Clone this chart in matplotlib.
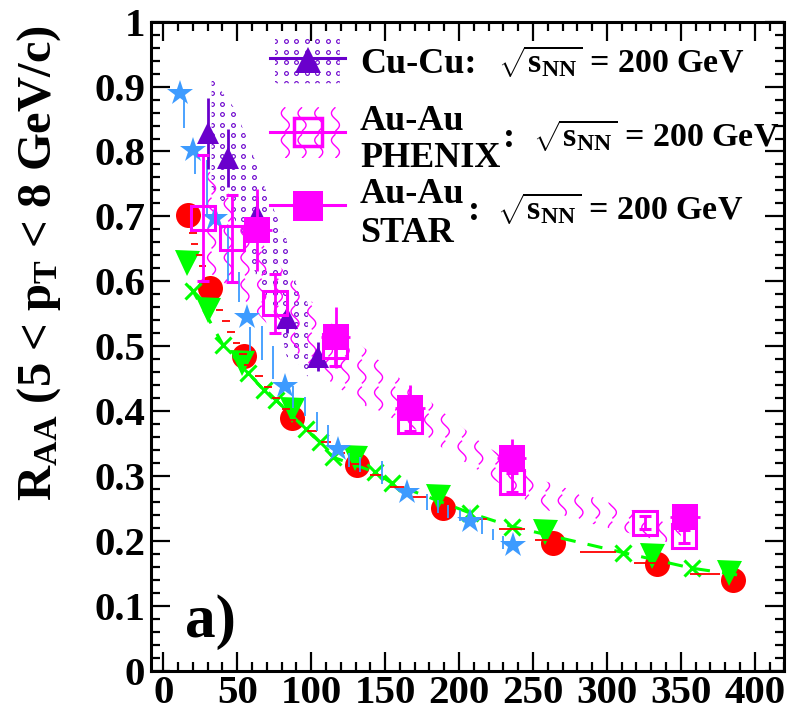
import numpy as np
import matplotlib
matplotlib.use("Agg")
import matplotlib.pyplot as plt
from matplotlib.patches import Polygon
from matplotlib.collections import LineCollection
from matplotlib.ticker import MultipleLocator, FuncFormatter

plt.rcParams.update({
    "font.family": ["Liberation Serif", "DejaVu Serif"],
    "font.weight": "bold",
    "mathtext.fontset": "custom",
    "mathtext.rm": "Liberation Serif:bold",
    "mathtext.bf": "Liberation Serif:bold",
    "mathtext.it": "Liberation Serif:bold:italic",
})

# ---------------- data ----------------
# model curves
red_circ_npart = [16.9, 31.6, 54.6, 86.8, 131.2, 188.9, 263.7, 333.6, 385.4]
red_circ_raa = [0.702, 0.589, 0.485, 0.389, 0.317, 0.250, 0.196, 0.164, 0.140]

green_tri_npart = [15.8, 30.4, 53.0, 86.8, 129.6, 185.9, 258.0, 330.2, 382.7]
green_tri_raa = [0.628, 0.556, 0.474, 0.402, 0.327, 0.268, 0.214, 0.176, 0.150]

green_x_npart = [17.6, 20.1, 40.4, 57.3, 68.1, 76.2, 96.5, 105.9, 114.7, 143.1,
                 154.6, 207.4, 235.8, 310.8, 357.4, 390.0]
green_x_raa = [0.592, 0.585, 0.502, 0.459, 0.432, 0.417, 0.372, 0.352, 0.329, 0.306,
               0.289, 0.243, 0.222, 0.182, 0.158, 0.147]

red_dash_npart = [20.1, 21.4, 24.8, 26.8, 38.3, 42.4, 45.8, 49.8, 53.9, 57.3, 64.7,
                  70.8, 76.2, 83.0, 87.0, 100.5, 110.0, 119.5, 130.9, 144.5, 158.0,
                  173.5, 211.4, 235.8, 260.2, 294.0, 329.1, 366.3]
red_dash_raa = [0.674, 0.657, 0.640, 0.623, 0.556, 0.539, 0.522, 0.505, 0.488, 0.471,
                0.454, 0.437, 0.420, 0.403, 0.386, 0.369, 0.352, 0.336, 0.318, 0.302,
                0.283, 0.267, 0.234, 0.218, 0.201, 0.183, 0.166, 0.149]
red_dash_half = [2.4, 2.4, 2.4, 2.4, 2.4, 2.4, 2.4, 2.4, 2.4, 2.4, 2.7,
                 2.7, 2.7, 3.0, 3.0, 3.4, 3.4, 3.4, 4.1, 4.4, 4.7,
                 5.1, 7.4, 8.5, 8.5, 12.5, 10.8, 10.1]

blue_bar_npart = [14.0, 21.4, 29.3, 43.9, 51.4, 58.6, 66.5, 74.4, 87.9, 95.8, 103.7,
                  111.6, 125.8, 133.0, 147.7, 178.1, 185.9, 192.7, 200.6, 215.3,
                  222.7, 229.9]
blue_bar_raa = [0.858, 0.784, 0.745, 0.640, 0.591, 0.511, 0.505, 0.475, 0.421, 0.407,
                0.384, 0.362, 0.325, 0.318, 0.305, 0.260, 0.253, 0.245, 0.239, 0.223,
                0.210, 0.198]
blue_bar_err = [0.022, 0.018, 0.042, 0.043, 0.023, 0.019, 0.026, 0.025, 0.017, 0.015,
                0.015, 0.017, 0.011, 0.012, 0.018, 0.013, 0.010, 0.010, 0.009, 0.012,
                0.009, 0.010]

blue_star_npart = [11.3, 20.3, 35.0, 56.6, 82.3, 118.3, 164.6, 207.4, 236.7]
blue_star_raa = [0.890, 0.802, 0.697, 0.545, 0.438, 0.341, 0.275, 0.230, 0.193]

# measurements
cucu_npart = [30.4, 43.9, 63.2, 83.4, 104.8]
cucu_raa = [0.828, 0.790, 0.702, 0.543, 0.484]
cucu_err = [0.055, 0.044, 0.030, 0.022, 0.023]

cucu_band_npart = [32.7, 47.3, 55.3, 63.2, 68.9, 76.6, 83.4, 90.2, 97.8]
cucu_band_hi = [0.913, 0.869, 0.828, 0.779, 0.743, 0.700, 0.664, 0.592, 0.566]
cucu_band_lo = [0.745, 0.700, 0.660, 0.607, 0.576, 0.556, 0.484, 0.476, 0.453]

phenix_npart = [27.0, 46.2, 75.5, 116.1, 166.8, 235.6, 325.7, 352.1]
phenix_raa = [0.697, 0.666, 0.566, 0.500, 0.384, 0.290, 0.228, 0.2075]
phenix_err = [0.097, 0.067, 0.045, 0.030, 0.015, 0.015, 0.010, 0.010]

phenix_band_npart = [27, 46, 60, 76, 100, 116, 138, 159, 172, 194, 216, 253, 287, 322, 350]
phenix_band_hi = [0.78, 0.73, 0.68, 0.63, 0.57, 0.53, 0.494, 0.452, 0.43, 0.39, 0.35,
                  0.296, 0.27, 0.243, 0.225]
phenix_band_lo = [0.62, 0.59, 0.56, 0.52, 0.47, 0.44, 0.406, 0.385, 0.37, 0.335, 0.305,
                  0.252, 0.228, 0.208, 0.193]

star_npart = [63.2, 116.6, 166.8, 235.6, 352.7]
star_raa = [0.679, 0.514, 0.404, 0.327, 0.237]
star_err = [0.063, 0.047, 0.036, 0.030, 0.0]

x_ticks = [0, 50, 100, 150, 200, 250, 300, 350, 400]

RED = "#ff0000"
GREEN = "#00ff00"
BLUE = "#3d9bff"
PURPLE = "#6a00cc"
MAGENTA = "#ff00ff"

# ---------------- figure ----------------
fig = plt.figure(figsize=(7.87, 7.16), dpi=100)
ax = fig.add_axes([0.1915, 0.0633, 0.8051, 0.9064])
ax.set_xlim(-8.5, 420)
ax.set_ylim(0, 1)


def band_polygon(x, lo, hi):
    x = np.asarray(x, float)
    xs = np.concatenate([x, x[::-1]])
    ys = np.concatenate([np.asarray(hi, float), np.asarray(lo, float)[::-1]])
    return np.column_stack([xs, ys])


def add_clip(verts, transform):
    p = Polygon(verts, closed=True, transform=transform,
                facecolor="none", edgecolor="none", zorder=0)
    ax.add_patch(p)
    return p


def dot_fill(verts, transform, step, color, zorder):
    clip = add_clip(verts, transform)
    disp = transform.transform(verts)
    x0, y0 = disp.min(axis=0)
    x1, y1 = disp.max(axis=0)
    gx, gy = np.meshgrid(np.arange(x0, x1 + step, step), np.arange(y0, y1 + step, step))
    pts = ax.transData.inverted().transform(np.column_stack([gx.ravel(), gy.ravel()]))
    ln, = ax.plot(pts[:, 0], pts[:, 1], ls="none", marker="o", ms=2.7,
                  mfc="none", mec=color, mew=0.8, zorder=zorder, clip_on=True)
    ln.set_clip_path(clip)


def wave_fill(verts, transform, dx, period, amp, color, zorder):
    clip = add_clip(verts, transform)
    disp = transform.transform(verts)
    x0, y0 = disp.min(axis=0)
    x1, y1 = disp.max(axis=0)
    t = np.linspace(0, 1, 40)
    inv = ax.transData.inverted()
    segs = []
    for xc in np.arange(x0 + dx / 2, x1 + dx, dx):
        for yc in np.arange(y0 - period, y1 + period, period):
            yy = yc + 0.88 * period * t
            xx = xc + amp * np.sin(2 * np.pi * t)
            segs.append(inv.transform(np.column_stack([xx, yy])))
    lc = LineCollection(segs, colors=color, linewidths=1.0, zorder=zorder)
    ax.add_collection(lc)
    lc.set_clip_path(clip)


# systematic bands
dot_fill(band_polygon(cucu_band_npart, cucu_band_lo, cucu_band_hi),
         ax.transData, 10.5, PURPLE, 1)
wave_fill(band_polygon(phenix_band_npart, phenix_band_lo, phenix_band_hi),
          ax.transData, 16.7, 27, 4, MAGENTA, 1)

# model curves
ax.plot(red_circ_npart, red_circ_raa, ls="none", marker="o", ms=18,
        color=RED, mew=0, zorder=2)
ax.plot(green_tri_npart, green_tri_raa, ls="none", marker="v", ms=18,
        color=GREEN, mew=0, zorder=3)
ax.plot(green_x_npart, green_x_raa, color=GREEN, lw=2.2, ls=(0, (5, 4)), zorder=4)
ax.plot(green_x_npart[1:-1], green_x_raa[1:-1], ls="none", marker="x", ms=11,
        mew=2.2, color=GREEN, zorder=4)
ax.errorbar(red_dash_npart, red_dash_raa, xerr=red_dash_half, fmt="none",
            ecolor=RED, elinewidth=1.3, zorder=5)
ax.errorbar(blue_bar_npart, blue_bar_raa, yerr=blue_bar_err, fmt="none",
            ecolor=BLUE, elinewidth=1.3, zorder=5)
ax.plot(blue_star_npart, blue_star_raa, ls="none", marker="*", ms=19,
        color=BLUE, mew=0, zorder=6)

# measurements
ax.errorbar(cucu_npart, cucu_raa, yerr=cucu_err, fmt="^", ms=16.5, color=PURPLE,
            mew=0, ecolor=PURPLE, elinewidth=2, capsize=4, capthick=2, zorder=7)
ax.errorbar(phenix_npart, phenix_raa, yerr=phenix_err, fmt="s", ms=17.5,
            mfc="none", mec=MAGENTA, mew=2.2, ecolor=MAGENTA, elinewidth=2,
            capsize=4, capthick=2, zorder=8)
ax.errorbar(star_npart, star_raa, yerr=star_err, xerr=10, fmt="s", ms=18.5,
            color=MAGENTA, mew=0, ecolor=MAGENTA, elinewidth=2, capsize=3,
            capthick=2, zorder=9)

# axes styling
ax.set_xticks(x_ticks)
ax.xaxis.set_minor_locator(MultipleLocator(10))
ax.yaxis.set_major_locator(MultipleLocator(0.1))
ax.yaxis.set_minor_locator(MultipleLocator(0.02))
ax.yaxis.set_major_formatter(FuncFormatter(lambda v, p: f"{v:g}"))
ax.tick_params(which="both", direction="in", top=True, right=True, width=1.6)
ax.tick_params(which="major", length=13.7, labelsize=29.5)
ax.tick_params(axis="x", which="major", pad=3)
ax.tick_params(axis="y", which="major", pad=4)
ax.tick_params(which="minor", length=6.5)
for sp in ax.spines.values():
    sp.set_linewidth(2.2)

ax.text(-0.1763, 0.994, r"R$_{\mathrm{AA}}$ (5 < p$_{\mathrm{T}}$ < 8 GeV/c)",
        transform=ax.transAxes, rotation=90, ha="center", va="top", fontsize=35)
ax.text(0.054, 0.052, "a)", transform=ax.transAxes, fontsize=44,
        ha="left", va="baseline")

# legend
SQ = r"$\sqrt{\mathrm{s}_{\mathrm{NN}}}$ = 200 GeV"
dot_fill(np.array([[0.1962, 0.9051], [0.2985, 0.9051], [0.2985, 0.9795], [0.1962, 0.9795]]),
         ax.transAxes, 10.5, PURPLE, 10)
wave_fill(np.array([[0.1993, 0.7899], [0.3035, 0.7899], [0.3035, 0.8685], [0.1993, 0.8685]]),
          ax.transAxes, 16.7, 27, 4, MAGENTA, 10)
lx = [0.1883, 0.3067]
ax.plot(lx, [0.9436, 0.9436], color=PURPLE, lw=2.2, transform=ax.transAxes, zorder=11)
ax.plot([0.2487], [0.941], marker="^", ms=19, color=PURPLE, mew=0,
        transform=ax.transAxes, zorder=12)
ax.plot(lx, [0.8305, 0.8305], color=MAGENTA, lw=2.2, transform=ax.transAxes, zorder=11)
ax.plot([0.2475], [0.8305], marker="s", ms=20, mfc="none", mec=MAGENTA, mew=2.5,
        transform=ax.transAxes, zorder=12)
ax.plot(lx, [0.7176, 0.7176], color=MAGENTA, lw=2.2, transform=ax.transAxes, zorder=11)
ax.plot([0.2483], [0.716], marker="s", ms=21, color=MAGENTA, mew=0,
        transform=ax.transAxes, zorder=12)

tk = dict(transform=ax.transAxes, fontsize=26, ha="left", va="baseline", zorder=12)
sk = dict(tk, fontsize=24.5)
ax.text(0.3302, 0.9205, "Cu-Cu:", **tk)
ax.text(0.548, 0.9205, SQ, **sk)
ax.text(0.3302, 0.8331, "Au-Au", **tk)
ax.text(0.3302, 0.7766, "PHENIX", **tk)
ax.text(0.556, 0.8067, ":", **tk)
ax.text(0.6034, 0.8067, SQ, **sk)
ax.text(0.3302, 0.7202, "Au-Au", **tk)
ax.text(0.3302, 0.661, "STAR", **tk)
ax.text(0.5008, 0.6945, ":", **tk)
ax.text(0.5466, 0.6945, SQ, **sk)

fig.savefig("out.png", dpi=100)
